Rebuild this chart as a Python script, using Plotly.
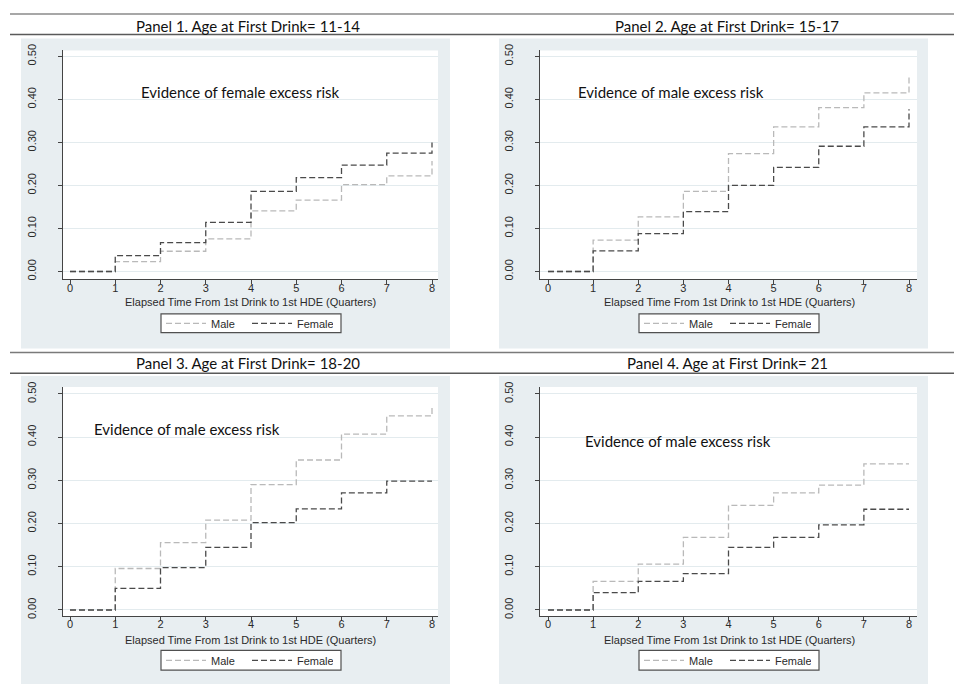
import plotly.graph_objects as go

W, H = 954, 688

# ---------------- data ----------------
quarters = [0, 1, 2, 3, 4, 5, 6, 7, 8]
panel_titles = [
    "Panel 1. Age at First Drink= 11-14",
    "Panel 2. Age at First Drink= 15-17",
    "Panel 3. Age at First Drink= 18-20",
    "Panel 4. Age at First Drink= 21",
]
note_texts = [
    "Evidence of female excess risk",
    "Evidence of male excess risk",
    "Evidence of male excess risk",
    "Evidence of male excess risk",
]
p1_male = [0, 0.023, 0.047, 0.076, 0.141, 0.166, 0.202, 0.222, 0.257]
p1_female = [0, 0.037, 0.067, 0.114, 0.186, 0.218, 0.247, 0.275, 0.300]
p2_male = [0, 0.073, 0.127, 0.186, 0.274, 0.336, 0.381, 0.415, 0.452]
p2_female = [0, 0.048, 0.088, 0.139, 0.200, 0.242, 0.291, 0.336, 0.377]
p3_male = [0, 0.096, 0.156, 0.208, 0.290, 0.347, 0.407, 0.449, 0.472]
p3_female = [0, 0.050, 0.098, 0.145, 0.202, 0.234, 0.271, 0.298, 0.298]
p4_male = [0, 0.066, 0.106, 0.168, 0.242, 0.271, 0.289, 0.338, 0.338]
p4_female = [0, 0.040, 0.066, 0.084, 0.145, 0.168, 0.197, 0.233, 0.233]
male_series = [p1_male, p2_male, p3_male, p4_male]
female_series = [p1_female, p2_female, p3_female, p4_female]
note_x = [1.53, 0.62, 0.49, 0.78]
note_y = [0.417, 0.417, 0.419, 0.390]
y_ticks = [0.0, 0.1, 0.2, 0.3, 0.4, 0.5]
x_title = "Elapsed Time From 1st Drink to 1st HDE (Quarters)"

# ---------------- layout geometry (pixels) ----------------
cols = [
    dict(bg=(21, 450), plot=(63, 438), x0=70, x8=432, title=248, axt=251, leg=(161, 341)),
    dict(bg=(499, 928), plot=(540, 917), x0=548, x8=909, title=727, axt=729, leg=(639, 819)),
]
rows = [
    dict(bg=(33, 347), plot=(45, 277), y0=269, y50=51, title=20, axt=300, leg=(312, 331)),
    dict(bg=(375, 687), plot=(386, 618), y0=612, y50=393, title=362, axt=642, leg=(653, 673)),
]

MALE_C = "#b9b9b9"
FEMALE_C = "#4a4a4a"
BG_C = "#e8eef1"
GRID_C = "#e3ebee"
TXT_C = "#2b2b2b"
SANS = "Liberation Sans, Arial, sans-serif"
CAL = "Lato, Carlito, Calibri, sans-serif"


def px(x):
    return x / W


def py(y):
    return 1 - y / H


fig = go.Figure()
shapes = []
annotations = []
layout_extra = {}

for i in range(4):
    c = cols[i % 2]
    r = rows[i // 2]
    n = i + 1
    xa = "xaxis" if n == 1 else f"xaxis{n}"
    ya = "yaxis" if n == 1 else f"yaxis{n}"
    xr = "x" if n == 1 else f"x{n}"
    yr = "y" if n == 1 else f"y{n}"
    lg = "legend" if n == 1 else f"legend{n}"

    # background panel + white plot region
    shapes.append(dict(type="rect", xref="paper", yref="paper", layer="below",
                       x0=px(c["bg"][0]), x1=px(c["bg"][1]), y0=py(r["bg"][1]), y1=py(r["bg"][0]),
                       fillcolor=BG_C, line=dict(width=0)))
    shapes.append(dict(type="rect", xref="paper", yref="paper", layer="below",
                       x0=px(c["plot"][0]), x1=px(c["plot"][1]), y0=py(r["plot"][1]), y1=py(r["plot"][0]),
                       fillcolor="white", line=dict(width=0)))
    # legend box
    shapes.append(dict(type="rect", xref="paper", yref="paper", layer="below",
                       x0=px(c["leg"][0]), x1=px(c["leg"][1]), y0=py(r["leg"][1]), y1=py(r["leg"][0]),
                       fillcolor="white", line=dict(width=1.2, color="#505050")))

    ux = (c["x8"] - c["x0"]) / 8.0
    uy = (r["y0"] - r["y50"]) / 0.5
    xrange = [(c["plot"][0] - c["x0"]) / ux, (c["plot"][1] - c["x0"]) / ux]
    yrange = [(r["y0"] - r["plot"][1]) / uy, (r["y0"] - r["plot"][0]) / uy]

    layout_extra[xa] = dict(
        domain=[px(c["plot"][0]), px(c["plot"][1])], range=xrange, anchor=yr,
        tickmode="array", tickvals=quarters, ticktext=[str(q) for q in quarters],
        ticks="outside", ticklen=4, tickwidth=1, tickcolor="#444", ticklabelstandoff=-6,
        showline=True, linecolor="#444", linewidth=1.2, showgrid=False, zeroline=False,
        tickfont=dict(family=SANS, size=11, color=TXT_C), fixedrange=True,
    )
    layout_extra[ya] = dict(
        domain=[py(r["plot"][1]), py(r["plot"][0])], range=yrange, anchor=xr,
        tickmode="array", tickvals=y_ticks, ticktext=[f"{v:.2f}" for v in y_ticks],
        ticks="outside", ticklen=4, tickwidth=1, tickcolor="#444", tickangle=-90,
        ticklabelstandoff=18,
        showline=True, linecolor="#444", linewidth=1.2, showgrid=True, gridcolor=GRID_C, gridwidth=1,
        zeroline=False, tickfont=dict(family=SANS, size=11, color=TXT_C), fixedrange=True,
    )

    fig.add_trace(go.Scatter(x=quarters, y=male_series[i], mode="lines", name="Male",
                             line=dict(shape="hv", color=MALE_C, width=1.3, dash="6px,3px"),
                             xaxis=xr, yaxis=yr, legend=lg, hoverinfo="skip"))
    fig.add_trace(go.Scatter(x=quarters, y=female_series[i], mode="lines", name="Female",
                             line=dict(shape="hv", color=FEMALE_C, width=1.3, dash="6px,3px"),
                             xaxis=xr, yaxis=yr, legend=lg, hoverinfo="skip"))

    layout_extra[lg] = dict(
        x=px(c["leg"][0]), y=py((r["leg"][0] + r["leg"][1]) / 2), xanchor="left", yanchor="middle",
        orientation="h", bgcolor="rgba(0,0,0,0)", borderwidth=0, itemwidth=40,
        entrywidth=31, entrywidthmode="pixels",
        font=dict(family=SANS, size=11, color=TXT_C), itemclick=False, itemdoubleclick=False,
    )

    annotations.append(dict(xref="paper", yref="paper", x=px(c["title"]), y=py(r["title"]),
                            xanchor="center", yanchor="middle", showarrow=False, text=panel_titles[i],
                            font=dict(family=CAL, size=15, color="#111")))
    annotations.append(dict(xref="paper", yref="paper", x=px(c["axt"]), y=py(r["axt"]),
                            xanchor="center", yanchor="middle", showarrow=False, text=x_title,
                            font=dict(family=SANS, size=11, color=TXT_C)))
    annotations.append(dict(xref=xr, yref=yr, x=note_x[i], y=note_y[i],
                            xanchor="left", yanchor="middle", showarrow=False, text=note_texts[i],
                            font=dict(family=CAL, size=15, color="#111")))

# horizontal rules of the surrounding table
for yy, col in [(8, "#8a8a8a"), (29, "#5a5a5a"), (351, "#7a7a7a"), (372, "#5a5a5a")]:
    shapes.append(dict(type="line", xref="paper", yref="paper", x0=px(10), x1=1, y0=py(yy), y1=py(yy),
                       line=dict(color=col, width=1.5)))

fig.update_layout(
    width=W, height=H, margin=dict(l=0, r=0, t=0, b=0),
    paper_bgcolor="white", plot_bgcolor="rgba(0,0,0,0)",
    showlegend=True, shapes=shapes, annotations=annotations, hovermode=False,
    **layout_extra,
)

fig.write_html("out.html", config={"displayModeBar": False})
